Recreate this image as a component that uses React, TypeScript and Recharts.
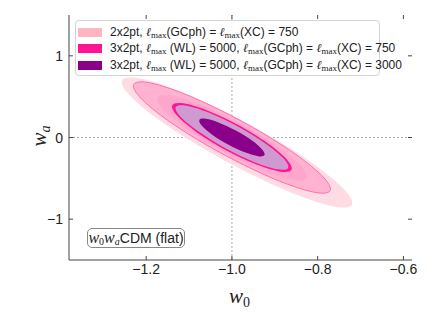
import React from "react";
import {
  ScatterChart,
  Scatter,
  XAxis,
  YAxis,
  ReferenceLine,
  Legend,
} from "recharts";

// contour outlines, as [w0, wa]
const outer2x2: [number, number][] = [
  [-0.72, -0.823], [-0.768, -0.839], [-0.875, -0.646], [-1.012, -0.297],
  [-1.143, 0.116], [-1.232, 0.481], [-1.256, 0.701], [-1.208, 0.717],
  [-1.101, 0.524], [-0.964, 0.175], [-0.833, -0.238], [-0.744, -0.603],
];
const inner2x2: [number, number][] = [
  [-0.771, -0.651], [-0.812, -0.666], [-0.904, -0.502], [-1.021, -0.204],
  [-1.133, 0.149], [-1.209, 0.462], [-1.229, 0.651], [-1.188, 0.666],
  [-1.096, 0.502], [-0.979, 0.204], [-0.867, -0.149], [-0.791, -0.462],
];
const outer750: [number, number][] = [
  [-0.826, -0.495], [-0.859, -0.517], [-0.929, -0.4], [-1.018, -0.177],
  [-1.103, 0.094], [-1.16, 0.34], [-1.174, 0.495], [-1.141, 0.517],
  [-1.071, 0.4], [-0.982, 0.177], [-0.897, -0.094], [-0.84, -0.34],
];
const inner750: [number, number][] = [
  [-0.861, -0.396], [-0.887, -0.418], [-0.944, -0.328], [-1.016, -0.15],
  [-1.083, 0.068], [-1.128, 0.268], [-1.139, 0.396], [-1.113, 0.418],
  [-1.056, 0.328], [-0.984, 0.15], [-0.917, -0.068], [-0.872, -0.268],
];
const outer3000: [number, number][] = [
  [-0.869, -0.372], [-0.894, -0.389], [-0.947, -0.302], [-1.014, -0.134],
  [-1.077, 0.07], [-1.12, 0.255], [-1.131, 0.372], [-1.106, 0.389],
  [-1.053, 0.302], [-0.986, 0.134], [-0.923, -0.07], [-0.88, -0.255],
];
const inner3000: [number, number][] = [
  [-0.924, -0.215], [-0.939, -0.229], [-0.97, -0.182], [-1.009, -0.086],
  [-1.046, 0.033], [-1.07, 0.143], [-1.076, 0.215], [-1.061, 0.229],
  [-1.03, 0.182], [-0.991, 0.086], [-0.954, -0.033], [-0.93, -0.143],
];

const xTicks = [-1.2, -1.0, -0.8, -0.6];
const yTicks = [-1, 0, 1];

const legendLabels = [
  "2x2pt, {l}(GCph) = {l}(XC) = 750",
  "3x2pt, {l} (WL) = 5000, {l}(GCph) = {l}(XC) = 750",
  "3x2pt, {l} (WL) = 5000, {l}(GCph) = {l}(XC) = 3000",
];
const legendColors = ["#ffb6c1", "#ff1493", "#8b008b"];

const PLOT = { left: 69, right: 412, top: 15, bottom: 260 };
const FRAME = "#444";
const SANS = "'Liberation Sans', Arial, sans-serif";
const SERIF = "'Liberation Serif', 'Times New Roman', serif";

const toPts = (arr: [number, number][]) => arr.map(([w0, wa]) => ({ w0, wa }));

// closed Catmull-Rom through the scaled points
const closedCurve = (pts: { x: number; y: number }[]) => {
  const n = pts.length;
  let d = `M${pts[0].x},${pts[0].y}`;
  for (let i = 0; i < n; i++) {
    const p0 = pts[(i - 1 + n) % n];
    const p1 = pts[i];
    const p2 = pts[(i + 1) % n];
    const p3 = pts[(i + 2) % n];
    const c1x = p1.x + (p2.x - p0.x) / 6;
    const c1y = p1.y + (p2.y - p0.y) / 6;
    const c2x = p2.x - (p3.x - p1.x) / 6;
    const c2y = p2.y - (p3.y - p1.y) / 6;
    d += ` C${c1x},${c1y} ${c2x},${c2y} ${p2.x},${p2.y}`;
  }
  return d + " Z";
};

const ContourPath = (props: any) => {
  const { points, tone, rim, rimWidth } = props;
  if (!points || points.length < 3) return null;
  return (
    <path
      d={closedCurve(points)}
      fill={tone}
      stroke={rim || "none"}
      strokeWidth={rimWidth || 0}
    />
  );
};

const fmt = (v: number, digits: number) =>
  (v < 0 ? "\u2212" : "") + Math.abs(v).toFixed(digits);

const XTick = (props: any) => {
  const { x, payload } = props;
  return (
    <g>
      <line x1={x} x2={x} y1={PLOT.bottom} y2={PLOT.bottom - 4} stroke={FRAME} />
      <line x1={x} x2={x} y1={PLOT.top} y2={PLOT.top + 4} stroke={FRAME} />
      <text x={x} y={PLOT.bottom + 14} textAnchor="middle" fontSize={14} fontFamily={SANS} fill="#222">
        {fmt(payload.value, 1)}
      </text>
    </g>
  );
};

const YTick = (props: any) => {
  const { y, payload } = props;
  return (
    <g>
      <line x1={PLOT.left} x2={PLOT.left + 4} y1={y} y2={y} stroke={FRAME} />
      <line x1={PLOT.right} x2={PLOT.right - 4} y1={y} y2={y} stroke={FRAME} />
      <text x={PLOT.left - 6} y={y + 5} textAnchor="end" fontSize={14} fontFamily={SANS} fill="#222">
        {fmt(payload.value, 0)}
      </text>
    </g>
  );
};

const Ell = () => (
  <>
    <span style={{ fontFamily: SERIF, fontStyle: "italic" }}>ℓ</span>
    <span style={{ fontFamily: SERIF, fontSize: 9, position: "relative", top: 2 }}>max</span>
  </>
);

const LegendBox = () => (
  <div
    style={{
      width: 305,
      height: 56,
      boxSizing: "border-box",
      border: "1px solid #d4d4d4",
      borderRadius: 4,
      background: "rgba(255,255,255,0.85)",
      paddingTop: 3,
      fontFamily: SANS,
      fontSize: 12,
      color: "#222",
    }}
  >
    {legendLabels.map((label, i) => (
      <div key={i} style={{ display: "flex", alignItems: "center", height: 16.5, paddingLeft: 2 }}>
        <div style={{ width: 24, height: 9, flexShrink: 0, background: legendColors[i], marginRight: 8 }} />
        <div style={{ whiteSpace: "nowrap" }}>
          {label.split("{l}").map((part, j) => (
            <React.Fragment key={j}>
              {j > 0 && <Ell />}
              {part}
            </React.Fragment>
          ))}
        </div>
      </div>
    ))}
  </div>
);

const contours = [
  { data: outer2x2, tone: "#ffdbe3" },
  { data: inner2x2, tone: "#ffb3d1", rim: "#ff6eb4", rimWidth: 1 },
  { data: outer750, tone: "#ffa6cc" },
  { data: inner750, tone: "#ff1493" },
  { data: outer3000, tone: "#cf9acf" },
  { data: inner3000, tone: "#8b008b" },
];

const App = () => {
  return (
    <div style={{ position: "absolute", left: 0, top: 0, width: 430, height: 322, background: "#fff" }}>
      <ScatterChart width={430} height={322} margin={{ top: 15, right: 18, bottom: 32, left: 29 }}>
        <XAxis
          xAxisId="b"
          dataKey="w0"
          type="number"
          domain={[-1.38, -0.58]}
          ticks={xTicks}
          allowDataOverflow
          height={30}
          tickSize={0}
          tickMargin={0}
          tickLine={false}
          tick={<XTick />}
          stroke={FRAME}
        />
        <XAxis xAxisId="t" orientation="top" type="number" domain={[-1.38, -0.58]} height={0} tick={false} tickLine={false} stroke={FRAME} />
        <YAxis
          yAxisId="l"
          dataKey="wa"
          type="number"
          domain={[-1.5, 1.5]}
          ticks={yTicks}
          allowDataOverflow
          width={40}
          tickSize={0}
          tickMargin={0}
          tickLine={false}
          tick={<YTick />}
          stroke={FRAME}
        />
        <YAxis yAxisId="r" orientation="right" type="number" domain={[-1.5, 1.5]} width={0} tick={false} tickLine={false} stroke={FRAME} />
        {contours.map((c, i) => (
          <Scatter
            key={i}
            xAxisId="b"
            yAxisId="l"
            data={toPts(c.data)}
            line={<ContourPath tone={c.tone} rim={c.rim} rimWidth={c.rimWidth} />}
            lineType="joint"
            shape={() => <g />}
            legendType="none"
            isAnimationActive={false}
          />
        ))}
        <ReferenceLine xAxisId="b" yAxisId="l" x={-1} stroke="#aaa" strokeDasharray="2 2" />
        <ReferenceLine xAxisId="b" yAxisId="l" y={0} stroke="#aaa" strokeDasharray="2 2" />
        <Legend
          layout="horizontal"
          align="center"
          verticalAlign="middle"
          content={() => <LegendBox />}
          wrapperStyle={{ left: 75, top: 20, width: 305, height: 56 }}
        />
      </ScatterChart>
      <div
        style={{
          position: "absolute",
          left: 87,
          top: 228,
          width: 98,
          height: 20,
          boxSizing: "border-box",
          border: "1px solid #888",
          borderRadius: 5,
          background: "#fff",
          display: "flex",
          alignItems: "center",
          justifyContent: "center",
          fontFamily: SANS,
          fontSize: 14,
          color: "#222",
          whiteSpace: "nowrap",
        }}
      >
        <span style={{ fontFamily: SERIF, fontStyle: "italic", fontSize: 16 }}>w</span>
        <span style={{ fontFamily: SERIF, fontSize: 10, position: "relative", top: 3 }}>0</span>
        <span style={{ fontFamily: SERIF, fontStyle: "italic", fontSize: 16 }}>w</span>
        <span style={{ fontFamily: SERIF, fontStyle: "italic", fontSize: 10, position: "relative", top: 3 }}>a</span>
        <span>CDM (flat)</span>
      </div>
      <div
        style={{
          position: "absolute",
          left: 229,
          top: 284,
          fontFamily: SERIF,
          fontStyle: "italic",
          fontSize: 21,
          color: "#222",
          whiteSpace: "nowrap",
        }}
      >
        w<span style={{ fontStyle: "normal", fontSize: 14, position: "relative", top: 4 }}>0</span>
      </div>
      <div
        style={{
          position: "absolute",
          left: 24,
          top: 121,
          width: 30,
          height: 30,
          transform: "rotate(-90deg)",
          fontFamily: SERIF,
          fontStyle: "italic",
          fontSize: 21,
          color: "#222",
          whiteSpace: "nowrap",
          textAlign: "center",
          lineHeight: "30px",
        }}
      >
        w<span style={{ fontSize: 14, position: "relative", top: 4 }}>a</span>
      </div>
    </div>
  );
};

export default App;
